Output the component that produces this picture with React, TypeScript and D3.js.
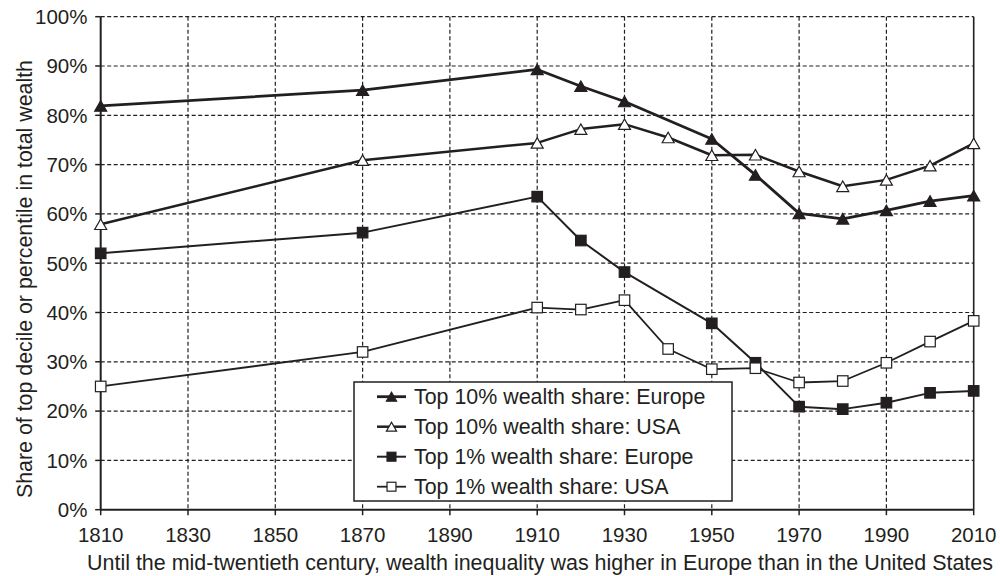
import React from "react";
import * as d3 from "d3";

const yearsEu10 = [1810, 1870, 1910, 1920, 1930, 1950, 1960, 1970, 1980, 1990, 2000, 2010];
const top10Europe = [81.9, 85.1, 89.3, 85.9, 82.8, 75.2, 67.9, 60.1, 59.0, 60.7, 62.6, 63.7];

const yearsUs10 = [1810, 1870, 1910, 1920, 1930, 1940, 1950, 1960, 1970, 1980, 1990, 2000, 2010];
const top10USA = [57.9, 70.9, 74.4, 77.2, 78.2, 75.5, 71.9, 72.0, 68.6, 65.6, 66.9, 69.8, 74.3];

const yearsEu1 = [1810, 1870, 1910, 1920, 1930, 1950, 1960, 1970, 1980, 1990, 2000, 2010];
const top1Europe = [52.0, 56.2, 63.5, 54.6, 48.2, 37.8, 29.8, 20.9, 20.4, 21.7, 23.7, 24.1];

const yearsUs1 = [1810, 1870, 1910, 1920, 1930, 1940, 1950, 1960, 1970, 1980, 1990, 2000, 2010];
const top1USA = [25.0, 32.0, 41.0, 40.6, 42.5, 32.6, 28.5, 28.7, 25.8, 26.1, 29.8, 34.1, 38.3];

const xTicks = [1810, 1830, 1850, 1870, 1890, 1910, 1930, 1950, 1970, 1990, 2010];
const yTicks = [0, 10, 20, 30, 40, 50, 60, 70, 80, 90, 100];

const legendLabels = [
  "Top 10% wealth share: Europe",
  "Top 10% wealth share: USA",
  "Top 1% wealth share: Europe",
  "Top 1% wealth share: USA",
];

const yTitle = "Share of top decile or percentile in total wealth";
const xTitle =
  "Until the mid-twentieth century, wealth inequality was higher in Europe than in the United States";

const INK = "#231f20";
const FONT = "'Liberation Sans', Arial, sans-serif";

type Series = {
  years: number[];
  values: number[];
  marker: "triangle" | "square";
  filled: boolean;
  width: number;
};

const series: Series[] = [
  { years: yearsEu10, values: top10Europe, marker: "triangle", filled: true, width: 2.8 },
  { years: yearsUs10, values: top10USA, marker: "triangle", filled: false, width: 2.5 },
  { years: yearsEu1, values: top1Europe, marker: "square", filled: true, width: 2 },
  { years: yearsUs1, values: top1USA, marker: "square", filled: false, width: 1.8 },
];

function Marker({ x, y, s, scale = 1 }: { x: number; y: number; s: Series; scale?: number }) {
  const fill = s.filled ? INK : "#fff";
  if (s.marker === "triangle") {
    const w = 12 * scale;
    const h = 10.5 * scale;
    const pts = `${x - w / 2},${y + h / 2} ${x + w / 2},${y + h / 2} ${x},${y - h / 2}`;
    return <polygon points={pts} fill={fill} stroke={INK} strokeWidth={1.2} />;
  }
  const a = 10.5 * scale;
  return <rect x={x - a / 2} y={y - a / 2} width={a} height={a} fill={fill} stroke={INK} strokeWidth={1.2} />;
}

export default function App() {
  const left = 100.7;
  const right = 973.7;
  const top = 16.7;
  const bottom = 509.7;

  const x = d3.scaleLinear().domain([1810, 2010]).range([left, right]);
  const y = d3.scaleLinear().domain([0, 100]).range([bottom, top]);

  const line = d3
    .line<[number, number]>()
    .x((d) => x(d[0]))
    .y((d) => y(d[1]));

  const legend = { x: 354, y: 382, w: 378, h: 119 };

  return (
    <svg
      width={1000}
      height={576}
      style={{ position: "absolute", left: 0, top: 0, background: "#fff" }}
      fontFamily={FONT}
    >
      <rect width={1000} height={576} fill="#fff" />
      {yTicks
        .filter((t) => t > 0)
        .map((t) => (
          <line
            key={"h" + t}
            x1={left}
            x2={right}
            y1={y(t)}
            y2={y(t)}
            stroke={INK}
            strokeWidth={1.2}
            strokeDasharray="4,2.5"
          />
        ))}
      {xTicks
        .filter((t) => t > 1810 && t < 2010)
        .map((t) => (
          <line
            key={"v" + t}
            x1={x(t)}
            x2={x(t)}
            y1={top}
            y2={bottom}
            stroke={INK}
            strokeWidth={1.2}
            strokeDasharray="4,2.5"
          />
        ))}
      <line x1={left} x2={left} y1={top} y2={bottom} stroke={INK} strokeWidth={2} />
      <line x1={right} x2={right} y1={top} y2={bottom} stroke={INK} strokeWidth={1.6} />
      <line x1={left} x2={right} y1={bottom} y2={bottom} stroke={INK} strokeWidth={2} />
      {yTicks.map((t) => (
        <g key={"yt" + t}>
          <line x1={left - 5.5} x2={left} y1={y(t)} y2={y(t)} stroke={INK} strokeWidth={1.5} />
          <text x={87.5} y={y(t)} dy="0.36em" textAnchor="end" fontSize={20.5} fill={INK}>
            {t}%
          </text>
        </g>
      ))}
      {xTicks.map((t) => (
        <g key={"xt" + t}>
          <line x1={x(t)} x2={x(t)} y1={bottom} y2={bottom + 5.5} stroke={INK} strokeWidth={1.5} />
          <text x={x(t)} y={541.7} textAnchor="middle" fontSize={20.5} fill={INK}>
            {t}
          </text>
        </g>
      ))}
      <text
        transform={`translate(32,279) rotate(-90)`}
        textAnchor="middle"
        fontSize={21.2}
        fill={INK}
        textLength={438}
        lengthAdjust="spacingAndGlyphs"
      >
        {yTitle}
      </text>
      <text
        x={540}
        y={570}
        textAnchor="middle"
        fontSize={21.3}
        fill={INK}
        textLength={906}
        lengthAdjust="spacingAndGlyphs"
      >
        {xTitle}
      </text>
      <rect
        x={legend.x}
        y={legend.y}
        width={legend.w}
        height={legend.h}
        fill="#fff"
        stroke={INK}
        strokeWidth={1.5}
      />
      {series.map((s, i) => {
        const cy = 396.7 + i * 30;
        return (
          <g key={"lg" + i}>
            <line x1={377} x2={406} y1={cy} y2={cy} stroke={INK} strokeWidth={s.width} />
            <Marker x={391.5} y={cy} s={s} scale={0.85} />
            <text x={414} y={cy} dy="0.36em" fontSize={21.4} fill={INK}>
              {legendLabels[i]}
            </text>
          </g>
        );
      })}
      {series.map((s, i) => {
        const pts: [number, number][] = s.years.map((yr, j) => [yr, s.values[j]]);
        return (
          <g key={"s" + i}>
            <path d={line(pts) || ""} fill="none" stroke={INK} strokeWidth={s.width} strokeLinejoin="round" />
            {pts.map((p, j) => (
              <Marker key={j} x={x(p[0])} y={y(p[1])} s={s} />
            ))}
          </g>
        );
      })}
    </svg>
  );
}
